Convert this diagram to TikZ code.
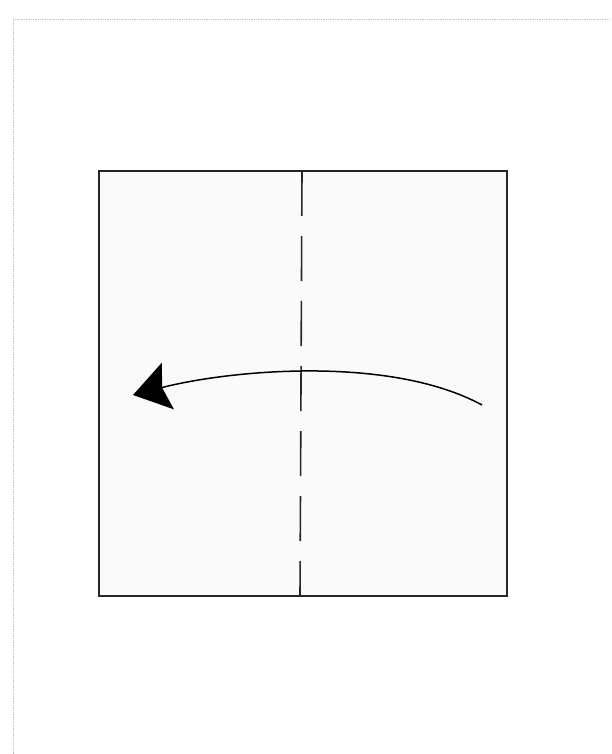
\documentclass[tikz,border=0pt]{standalone}
\usetikzlibrary{arrows.meta}
\begin{document}
\begin{tikzpicture}[x=1pt,y=-1pt,
  frame/.style={draw=black!25, line width=0.8pt, densely dotted},
  paper/.style={draw=black!85, line width=1.4pt},
  foldline/.style={draw=black!85, line width=1.6pt, dash pattern=on 45pt off 20pt},
  foldarrow/.style={draw=black, line width=1.5pt, -{Stealth[length=36pt,width=48pt,inset=6pt]}}]
\useasboundingbox (0,0) rectangle (612,754);
\fill[white] (0,0) rectangle (612,754);
\draw[frame] (13,19) -- (610,19) (13,19) -- (13,754);
\coordinate (tl) at (99,171);
\coordinate (br) at (507,596);
\fill[black!2] (tl) rectangle (br);
\coordinate (ft) at (302,171);
\coordinate (fb) at (300,596);
\draw[foldline] (ft) -- (fb);
\draw[paper] (tl) rectangle (br);
\coordinate (as) at (482,405);
\coordinate (ae) at (133,395);
\draw[foldarrow] (as) .. controls (390,355) and (230,370) .. (ae);
\end{tikzpicture}
\end{document}
